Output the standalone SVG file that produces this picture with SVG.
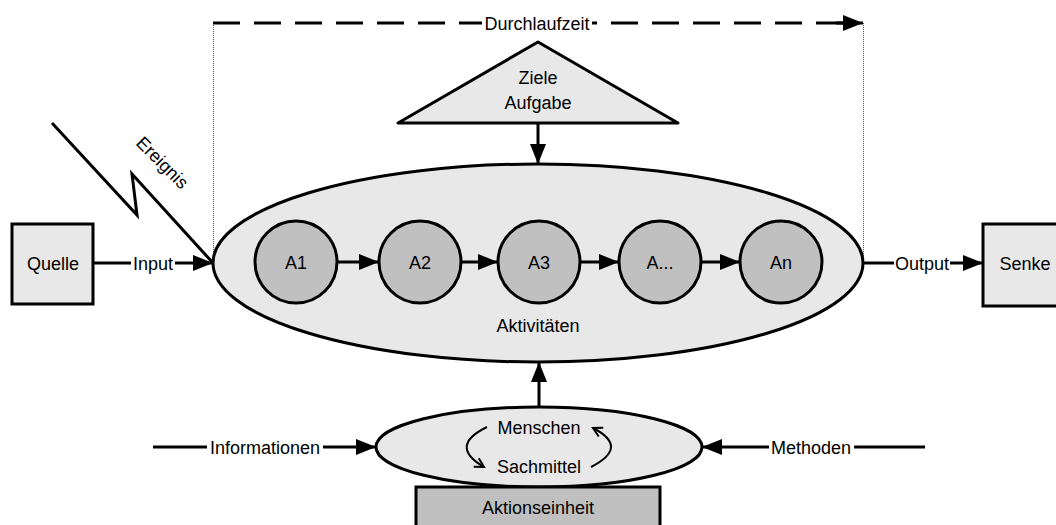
<svg xmlns="http://www.w3.org/2000/svg" width="1056" height="525" viewBox="0 0 1056 525">
  <defs>
    <marker id="head" markerUnits="userSpaceOnUse" markerWidth="20" markerHeight="16" refX="20" refY="8" orient="auto">
      <path d="M0,0 L20,8 L0,16 z" fill="#000"/>
    </marker>
    <marker id="open" markerUnits="userSpaceOnUse" markerWidth="14" markerHeight="14" refX="10" refY="6" orient="auto">
      <path d="M1,1 L10,6 L1,11" fill="none" stroke="#000" stroke-width="2"/>
    </marker>
    <style>
      text { font-family: "Liberation Sans", Arial, Helvetica, sans-serif; font-size: 18px; fill: #000; text-anchor: middle; }
      .light { fill: #e8e8e8; stroke: #000; stroke-width: 3; }
      .dark { fill: #c0c0c0; stroke: #000; stroke-width: 3; }
      .line { fill: none; stroke: #000; stroke-width: 3; }
      .arrow { fill: none; stroke: #000; stroke-width: 3; marker-end: url(#head); }
      .dash { fill: none; stroke: #000; stroke-width: 3; stroke-dasharray: 27 14; }
      .guide { fill: none; stroke: #555; stroke-width: 1; stroke-dasharray: 1 1; }
      .curl { fill: none; stroke: #000; stroke-width: 2; marker-end: url(#open); }
    </style>
  </defs>

  <!-- lead time bracket -->
  <g id="durchlaufzeit">
    <line class="guide" x1="213.5" y1="23" x2="213.5" y2="262"/>
    <line class="guide" x1="863.5" y1="23" x2="863.5" y2="262"/>
    <line class="dash" x1="213" y1="23" x2="482" y2="23"/>
    <line class="dash" x1="843" y1="23" x2="592" y2="23"/>
    <line class="arrow" x1="836" y1="23" x2="863" y2="23"/>
    <text x="537" y="29.5">Durchlaufzeit</text>
  </g>

  <!-- main activity ellipse -->
  <g id="aktivitaeten">
    <ellipse class="light" cx="538" cy="263" rx="325" ry="99"/>
    <text x="538" y="332">Aktivitäten</text>
  </g>

  <g id="ziele">
    <polygon class="light" points="538,42 398,123 678,123" stroke-linejoin="round"/>
    <text x="538" y="84">Ziele</text>
    <text x="538" y="109">Aufgabe</text>
  </g>

  <g id="quelle">
    <rect class="light" x="12" y="224" width="81" height="80"/>
    <text x="53" y="269.5">Quelle</text>
  </g>

  <g id="senke">
    <rect class="light" x="983" y="224" width="85" height="82"/>
    <text x="1025" y="269.5">Senke</text>
  </g>

  <g id="a1">
    <circle class="dark" cx="296" cy="262" r="41"/>
    <text x="296" y="268.5">A1</text>
  </g>
  <g id="a2">
    <circle class="dark" cx="420" cy="262" r="41"/>
    <text x="420" y="268.5">A2</text>
  </g>
  <g id="a3">
    <circle class="dark" cx="539" cy="262" r="41"/>
    <text x="539" y="268.5">A3</text>
  </g>
  <g id="a-etc">
    <circle class="dark" cx="660" cy="262" r="41"/>
    <text x="660" y="268.5">A...</text>
  </g>
  <g id="an">
    <circle class="dark" cx="781" cy="262" r="41"/>
    <text x="781" y="268.5">An</text>
  </g>

  <g id="aktionstraeger">
    <ellipse class="light" cx="539" cy="447" rx="163" ry="40"/>
    <text x="539" y="434">Menschen</text>
    <text x="539" y="473">Sachmittel</text>
    <path class="curl" d="M487,427 Q448,446 484,467"/>
    <path class="curl" d="M591,467 Q630,447 593,428"/>
  </g>

  <g id="aktionseinheit">
    <rect class="dark" x="416" y="487" width="244" height="50"/>
    <text x="538" y="514">Aktionseinheit</text>
  </g>

  <g id="ereignis">
    <polyline class="line" points="52,123 137,215 132,174 213,263" stroke-linejoin="miter"/>
    <text transform="translate(158,167) rotate(45)" x="0" y="0">Ereignis</text>
  </g>

  <!-- connectors -->
  <g id="connectors">
    <!-- Input -->
    <line class="line" x1="93" y1="263" x2="131" y2="263"/>
    <line class="arrow" x1="175" y1="263" x2="213" y2="263"/>
    <text x="153" y="269.5">Input</text>
    <!-- Output -->
    <line class="line" x1="863" y1="263" x2="894" y2="263"/>
    <line class="arrow" x1="950" y1="263" x2="983" y2="263"/>
    <text x="922" y="269.5">Output</text>
    <!-- activity chain -->
    <line class="arrow" x1="337" y1="262" x2="379" y2="262"/>
    <line class="arrow" x1="461" y1="262" x2="498" y2="262"/>
    <line class="arrow" x1="580" y1="262" x2="619" y2="262"/>
    <line class="arrow" x1="701" y1="262" x2="740" y2="262"/>
    <!-- goals into activities -->
    <line class="arrow" x1="538" y1="123" x2="538" y2="164"/>
    <!-- action carrier into activities -->
    <line class="arrow" x1="539" y1="407" x2="539" y2="362"/>
    <!-- Informationen -->
    <line class="line" x1="153" y1="447" x2="207" y2="447"/>
    <line class="arrow" x1="323" y1="447" x2="376" y2="447"/>
    <text x="265" y="453.5">Informationen</text>
    <!-- Methoden -->
    <line class="line" x1="925" y1="447" x2="854" y2="447"/>
    <line class="arrow" x1="769" y1="447" x2="702" y2="447"/>
    <text x="811" y="453.5">Methoden</text>
  </g>
</svg>
